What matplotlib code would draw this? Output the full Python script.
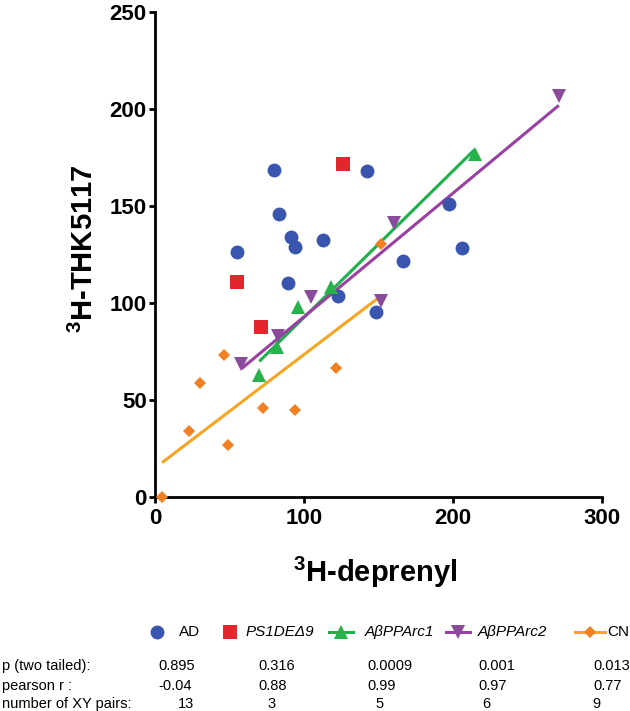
import numpy as np
import matplotlib
matplotlib.use("Agg")
import matplotlib.pyplot as plt
from matplotlib.lines import Line2D

plt.rcParams['font.family'] = ['Liberation Sans', 'DejaVu Sans']
plt.rcParams['mathtext.fontset'] = 'custom'
plt.rcParams['mathtext.rm'] = 'Liberation Sans'
plt.rcParams['mathtext.bf'] = 'Liberation Sans:bold'

# ---------------- data ----------------
ad_x = [80, 142.6, 83, 197.5, 91.2, 113, 94, 206, 55, 166.7, 89, 122.7, 148]
ad_y = [168.5, 168, 146, 151, 134, 132.5, 129, 128.5, 126.5, 121.5, 110.5, 103.5, 95.5]

ps1_x = [55.2, 71.4, 126.4]
ps1_y = [111, 87.5, 171.5]

arc1_x = [70, 81.8, 96.2, 117.8, 214.5]
arc1_y = [63, 77.5, 98, 108, 177]

arc2_x = [57.9, 82.7, 104.7, 151.6, 160.6, 271]
arc2_y = [68.5, 83, 103, 101, 141, 206.5]

cn_x = [4.7, 22.7, 30, 46.2, 49.1, 72.7, 94.1, 121.4, 151.4]
cn_y = [0, 34, 59, 73, 27, 46, 45, 66.5, 130.5]

x_ticks = [0, 100, 200, 300]
y_ticks = [0, 50, 100, 150, 200, 250]

groups = ['AD', 'PS1DEΔ9', 'AβPPArc1', 'AβPPArc2', 'CN']
row_labels = ['p (two tailed):', 'pearson r :', 'number of XY pairs:']
p_values = ['0.895', '0.316', '0.0009', '0.001', '0.013']
r_values = ['-0.04', '0.88', '0.99', '0.97', '0.77']
n_pairs = ['13', '3', '5', '6', '9']

# ---------------- style ----------------
c_ad = '#3A55AE'
c_ps1 = '#E2262B'
c_arc1 = '#27B24A'
c_arc1_line = '#1DB14B'
c_arc2 = '#8A4B9D'
c_arc2_line = '#9A3FA3'
c_cn = '#F27F21'
c_cn_line = '#F6A623'

W, H = 630, 711
fig = plt.figure(figsize=(W / 100, H / 100), dpi=100)
ax = fig.add_axes([155 / W, 1 - 497 / H, (602 - 155) / W, (497 - 12) / H])

for s in ['top', 'right']:
    ax.spines[s].set_visible(False)
for s in ['left', 'bottom']:
    ax.spines[s].set_linewidth(2.0)

ax.set_xlim(0, 300)
ax.set_ylim(0, 250)
ax.set_xticks(x_ticks)
ax.set_yticks(y_ticks)
ax.tick_params(axis='both', direction='out', length=4, width=2, labelsize=16)
ax.tick_params(axis='y', pad=2)
ax.tick_params(axis='x', pad=4)
for lab in ax.get_xticklabels() + ax.get_yticklabels():
    lab.set_fontweight('bold')

# regression lines
def fit_line(xs, ys, color):
    xs = np.asarray(xs, float)
    ys = np.asarray(ys, float)
    m, b = np.polyfit(xs, ys, 1)
    xx = np.array([xs.min(), xs.max()])
    ax.plot(xx, m * xx + b, color=color, lw=2.2, zorder=2, solid_capstyle='butt')

fit_line(arc1_x, arc1_y, c_arc1_line)
fit_line(arc2_x, arc2_y, c_arc2_line)
fit_line(cn_x, cn_y, c_cn_line)

kw = dict(linestyle='none', markeredgewidth=0, zorder=3, clip_on=False)
ax.plot(ad_x, ad_y, marker='o', ms=10, color=c_ad, **kw)
ax.plot(ps1_x, ps1_y, marker='s', ms=9.5, color=c_ps1, **kw)
ax.plot(arc1_x, arc1_y, marker='^', ms=10, color=c_arc1, **kw)
ax.plot(arc2_x, arc2_y, marker='v', ms=9.5, color=c_arc2, **kw)
ax.plot(cn_x, cn_y, marker='D', ms=6, color=c_cn, **kw)

# axis labels
fig.text(84 / W, 1 - 249 / H, r'$^{\mathbf{3}}$H-THK5117', rotation=90,
         ha='center', va='center', fontsize=21, fontweight='bold')
fig.text(375 / W, 1 - 572 / H, r'$^{\mathbf{3}}$H-deprenyl',
         ha='center', va='center', fontsize=21, fontweight='bold')

# legend row
ly = 1 - 632 / H
marker_specs = [
    (157, None, 'o', 10, c_ad, None),
    (230, None, 's', 9.5, c_ps1, None),
    (341, (329, 353), '^', 10, c_arc1, c_arc1_line),
    (458, (446, 470), 'v', 9.5, c_arc2, c_arc2_line),
    (590, (575, 605), 'D', 6, c_cn, c_cn_line),
]
label_x = [179, 246, 365, 478, 607]
label_style = ['normal', 'italic', 'italic', 'italic', 'normal']
for (mx, seg, mk, ms, mc, lc), lx, st, g in zip(marker_specs, label_x, label_style, groups):
    if seg is not None:
        fig.add_artist(Line2D([seg[0] / W, seg[1] / W], [ly, ly], color=lc, lw=2.2,
                              transform=fig.transFigure))
    fig.add_artist(Line2D([mx / W], [ly], marker=mk, ms=ms, color=mc, markeredgewidth=0,
                          linestyle='none', transform=fig.transFigure))
    fig.text(lx / W, ly, g, ha='left', va='center', fontsize=11, style=st)

# statistics table
row_y = [666, 686, 704]
col_x_pr = [158, 258, 367, 478, 593]
col_x_n = [178, 267, 375, 482, 592]
for lab, yy in zip(row_labels, row_y):
    fig.text(2 / W, 1 - yy / H, lab, ha='left', va='center', fontsize=10.5)
for vals, yy, cx in [(p_values, row_y[0], col_x_pr), (r_values, row_y[1], col_x_pr),
                     (n_pairs, row_y[2], col_x_n)]:
    for v, x in zip(vals, cx):
        fig.text(x / W, 1 - yy / H, v, ha='left', va='center', fontsize=10.5)

fig.savefig('out.png', dpi=100)
